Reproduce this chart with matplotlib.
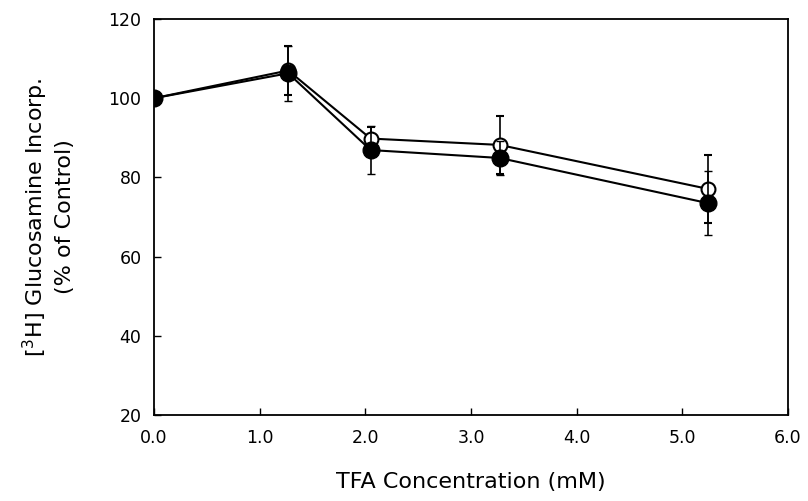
import matplotlib
matplotlib.use('Agg')
import matplotlib.pyplot as plt

# TFA concentration (mM)
conc = [0.0, 1.27, 2.05, 3.27, 5.24]

# open circles
open_y = [100.0, 107.0, 89.8, 88.2, 77.1]
open_err = [0.0, 6.2, 2.8, 7.3, 8.6]

# filled circles
filled_y = [100.0, 106.3, 86.9, 84.9, 73.5]
filled_err = [0.0, 7.0, 6.0, 4.4, 8.0]

fig = plt.figure(figsize=(8.08, 5.01), dpi=100)
ax = fig.add_axes([0.1906, 0.172, 0.7846, 0.790])

ax.errorbar(conc, open_y, yerr=open_err, fmt='-o', color='black', mfc='white',
            mec='black', ms=10, mew=1.5, lw=1.5, capsize=3, elinewidth=1.2, zorder=2)
ax.errorbar(conc, filled_y, yerr=filled_err, fmt='-o', color='black', mfc='black',
            mec='black', ms=12, lw=1.5, capsize=3, elinewidth=1.2, zorder=3)

ax.set_xlim(0, 6)
ax.set_ylim(20, 120)
ax.set_xticks([0, 1, 2, 3, 4, 5, 6])
ax.set_xticklabels(['0.0', '1.0', '2.0', '3.0', '4.0', '5.0', '6.0'])
ax.set_yticks([20, 40, 60, 80, 100, 120])
ax.tick_params(direction='in', labelsize=12.5, length=5, width=1)
ax.tick_params(axis='x', pad=10)
ax.tick_params(axis='y', pad=9)
for s in ax.spines.values():
    s.set_linewidth(1.3)

ax.set_xlabel('TFA Concentration (mM)', fontsize=16, labelpad=18)
ax.set_ylabel('[$^3$H] Glucosamine Incorp.\n(% of Control)', fontsize=16,
              labelpad=24, linespacing=1.3)

plt.savefig('out.png', dpi=100)
